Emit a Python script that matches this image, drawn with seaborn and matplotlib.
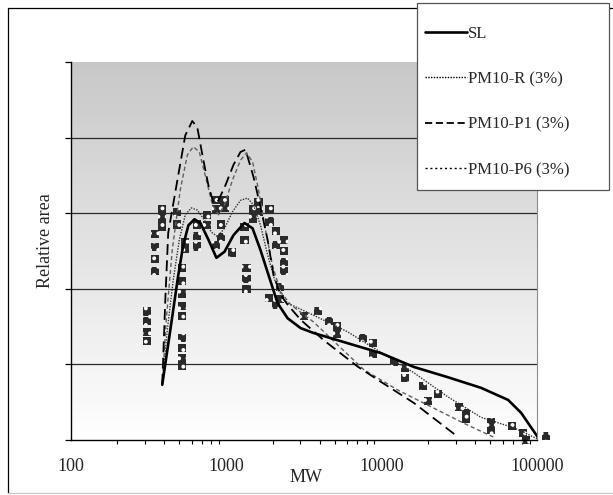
import numpy as np
import pandas as pd
import matplotlib
matplotlib.use("Agg")
import matplotlib.pyplot as plt
import seaborn as sns
from matplotlib.colors import LinearSegmentedColormap
from matplotlib.lines import Line2D
from matplotlib.patches import Rectangle
from matplotlib.ticker import FixedLocator, FixedFormatter, LogLocator, NullFormatter

# ---------------- data ----------------
sl_mw = [388, 437, 492, 530, 572, 625, 683, 769, 866, 976, 1115, 1312, 1479, 1665,
         1875, 2143, 2487, 3016, 3656, 6057, 9890, 16140, 26740, 43640, 65200, 79000, 101800]
sl_area = [0.73, 1.45, 2.18, 2.58, 2.84, 2.92, 2.87, 2.65, 2.41, 2.49, 2.71, 2.87, 2.80, 2.51,
           2.18, 1.81, 1.61, 1.48, 1.415, 1.28, 1.15, 0.966, 0.83, 0.69, 0.53, 0.36, 0.03]

r_mw = [388, 418, 457, 500, 546, 597, 653, 725, 804, 879, 976, 1099, 1237, 1371, 1500,
        1665, 1848, 2051, 2308, 2487, 3656, 6057, 9890, 16140, 26740, 43640, 71300, 101800]
r_area = [0.73, 1.45, 2.12, 2.65, 2.98, 3.07, 3.04, 2.91, 2.75, 2.69, 2.80, 3.02, 3.17, 3.20, 3.11,
          2.84, 2.45, 2.12, 1.88, 1.81, 1.65, 1.43, 1.16, 0.89, 0.57, 0.30, 0.16, 0.01]

p1_mw = [388, 406, 424, 486, 546, 606, 653, 714, 769, 829, 892, 990, 1115, 1237, 1333, 1500,
         1665, 1848, 2020, 2240, 2487, 3016, 4246, 7030, 9890, 16140, 31050]
p1_area = [0.73, 1.85, 2.74, 3.44, 4.03, 4.22, 4.13, 3.70, 3.37, 3.13, 3.17, 3.37, 3.64, 3.81, 3.84, 3.48,
           3.08, 2.65, 2.18, 1.92, 1.79, 1.59, 1.32, 0.97, 0.77, 0.49, 0.04]

p6_mw = [388, 412, 450, 507, 563, 615, 672, 746, 816, 892, 976, 1099, 1237, 1352, 1479, 1616,
         1791, 1987, 2240, 2600, 3656, 5460, 7690, 12740, 20800, 33960, 52300]
p6_area = [0.73, 1.59, 2.51, 3.31, 3.77, 3.88, 3.81, 3.44, 3.11, 2.98, 3.11, 3.44, 3.70, 3.80, 3.68, 3.31,
           2.78, 2.31, 1.96, 1.79, 1.56, 1.22, 0.93, 0.66, 0.44, 0.22, 0.04]

pts_mw = [311, 311, 311, 311, 350, 350, 350, 350, 388, 388, 388, 486, 486,
          522, 522, 522, 522, 522, 522, 522, 522, 522, 546, 546, 653, 653, 653,
          758, 758, 866, 866, 976, 976, 866, 921, 921, 1084, 1312, 1312,
          1352, 1352, 1352, 1479, 1479, 1616, 1616, 1901, 1901, 2080, 2080,
          2344, 2344, 2344, 2344, 1875, 2209, 2209, 2080,
          3155, 3883, 4571, 5145, 5145, 7570, 8790, 8790, 12000, 14130, 14130,
          18460, 23070, 19900, 31550, 35000, 35000, 50700, 50700, 69200, 81500, 85300, 114800]
pts_area = [1.70, 1.57, 1.43, 1.31, 2.72, 2.55, 2.39, 2.24, 3.05, 2.93, 2.82, 3.02, 2.85,
            2.27, 2.10, 1.93, 1.77, 1.64, 1.35, 1.22, 1.09, 0.98, 2.62, 2.53, 2.85, 2.70, 2.56,
            2.98, 2.84, 3.18, 3.06, 3.18, 3.07, 2.58, 2.85, 2.69, 2.48, 2.82, 2.64,
            2.27, 2.13, 2.00, 3.06, 2.93, 3.15, 3.02, 3.06, 2.89, 2.76, 2.58,
            2.65, 2.50, 2.36, 2.24, 1.88, 2.02, 1.87, 1.79,
            1.64, 1.71, 1.57, 1.51, 1.40, 1.35, 1.28, 1.14, 1.03, 0.95, 0.82,
            0.71, 0.61, 0.52, 0.44, 0.36, 0.28, 0.24, 0.13, 0.19, 0.09, 0.00, 0.05]

x_ticks = [100, 1000, 10000, 100000]
x_tick_labels = ["100", "1000", "10000", "100000"]
y_ticks = [0, 1, 2, 3, 4, 5]
labels = ["SL", "PM10-R (3%)", "PM10-P1 (3%)", "PM10-P6 (3%)"]

# ---------------- figure ----------------
sns.set_theme(style="white")
plt.rcParams["font.family"] = ["Liberation Serif", "DejaVu Serif"]
plt.rcParams["hatch.linewidth"] = 1.6

W, H = 613, 495
fig = plt.figure(figsize=(W / 100, H / 100), dpi=100)
fig.patch.set_facecolor("white")

left, right, bottom, top = 70.7 / W, 537 / W, (H - 440) / H, (H - 62) / H
pos = [left, bottom, right - left, top - bottom]

# gradient background
bg = fig.add_axes(pos, zorder=0)
cmap = LinearSegmentedColormap.from_list("g", ["#c8c8c8", "#ffffff"])
bg.imshow(np.linspace(0, 1, 256).reshape(-1, 1), cmap=cmap, aspect="auto",
          extent=[0, 1, 0, 1], interpolation="bilinear")
bg.set_xlim(0, 1)
bg.set_ylim(0, 1)
bg.axis("off")

ax = fig.add_axes(pos, zorder=1)
ax.patch.set_alpha(0)
ax.set_xscale("log")

for yv in y_ticks[1:-1]:
    ax.axhline(yv, color="#2a2a2a", lw=0.9, zorder=1)

sns.scatterplot(x=pts_mw, y=pts_area, ax=ax, marker="s", s=34, color="#2a2a2a",
                edgecolor="#ffffff", linewidth=0, legend=False, zorder=2, clip_on=False)
for c in ax.collections:
    c.set_hatch("..")

sns.lineplot(x=r_mw, y=r_area, ax=ax, sort=False, estimator=None, color="#303030",
             lw=1.0, linestyle=(0, (1, 1)), zorder=4)
sns.lineplot(x=p6_mw, y=p6_area, ax=ax, sort=False, estimator=None, color="#606060",
             lw=1.0, linestyle=(0, (3, 2)), zorder=4)
sns.lineplot(x=p1_mw, y=p1_area, ax=ax, sort=False, estimator=None, color="#000000",
             lw=1.3, linestyle=(0, (6, 3)), zorder=5)
sns.lineplot(x=sl_mw, y=sl_area, ax=ax, sort=False, estimator=None, color="#000000",
             lw=1.9, linestyle="-", zorder=6)

ax.set_xlim(100, 100000)
ax.set_ylim(0, 5)

ax.xaxis.set_major_locator(FixedLocator(x_ticks))
ax.xaxis.set_major_formatter(FixedFormatter(x_tick_labels))
ax.xaxis.set_minor_locator(LogLocator(base=10, subs=np.arange(2, 10)))
ax.xaxis.set_minor_formatter(NullFormatter())
ax.set_yticks(y_ticks)
ax.set_yticklabels([])
ax.tick_params(axis="x", which="major", direction="out", length=4, width=0.9,
               color="black", labelsize=13, pad=9)
ax.tick_params(axis="x", which="minor", direction="out", length=3, width=0.8,
               color="black", bottom=True)
ax.tick_params(axis="y", which="major", direction="out", length=4, width=0.9,
               color="black", left=True)

for s in ["left", "bottom"]:
    ax.spines[s].set_color("black")
    ax.spines[s].set_linewidth(1.0)
for s in ["top", "right"]:
    ax.spines[s].set_color("#8a8a8a")
    ax.spines[s].set_linewidth(0.8)
ax.spines["top"].set_visible(False)

ax.set_xlabel("MW", fontsize=13)
ax.xaxis.set_label_coords((306 - 70.7) / (537 - 70.7), (440 - 477) / 378)
ax.xaxis.label.set_va("center")
ax.set_ylabel("Relative area", fontsize=13)
ax.yaxis.set_label_coords((45 - 70.7) / (537 - 70.7), (440 - 241) / 378)
ax.yaxis.label.set_va("center")

# outer frame
fig.add_artist(Line2D([8 / W, 8 / W], [1 - 8 / H, 1 - 493 / H], color="black", lw=0.9))
fig.add_artist(Line2D([8 / W, 1.0], [1 - 8 / H, 1 - 8 / H], color="black", lw=0.9))
fig.add_artist(Line2D([8 / W, 1.0], [1 - 493 / H, 1 - 493 / H], color="#c8c8c8", lw=0.9))

# legend box (frame drawn separately so its padding can match the reference)
legbox = Rectangle((417 / W, 1 - 190 / H), 192 / W, 187 / H, transform=fig.transFigure,
                   facecolor="white", edgecolor="#555555", lw=0.9, zorder=9)
fig.add_artist(legbox)

handles = [
    Line2D([], [], color="black", lw=1.9, linestyle="-"),
    Line2D([], [], color="black", lw=1.0, linestyle=(0, (1, 1))),
    Line2D([], [], color="black", lw=1.3, linestyle=(0, (4, 2))),
    Line2D([], [], color="black", lw=1.0, linestyle=(0, (1.5, 2))),
]
leg = fig.legend(handles, labels, loc="upper left",
                 bbox_to_anchor=(425 / W, 1 - 26 / H),
                 frameon=False, fontsize=12, handlelength=2.5, handletextpad=0.05,
                 labelspacing=1.76, borderpad=0, borderaxespad=0)
leg.set_zorder(10)

fig.savefig("out.png", dpi=100, facecolor="white")
